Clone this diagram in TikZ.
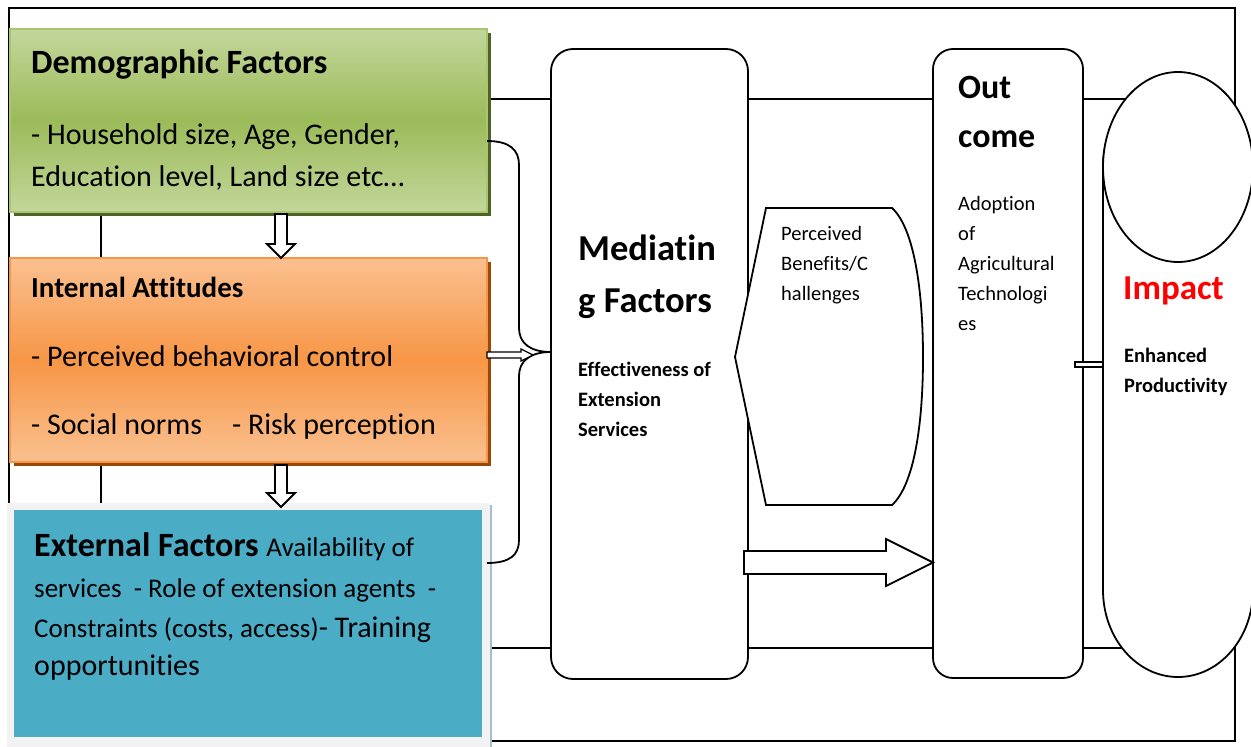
\documentclass[tikz,border=0pt]{standalone}
\usepackage{fontspec}
\setmainfont{Carlito}[Ligatures=NoCommon]
\usetikzlibrary{calc,shadows}
\definecolor{gtop}{HTML}{C3D69B}
\definecolor{gmid}{HTML}{9BBB59}
\definecolor{gborder}{HTML}{A9C66E}
\definecolor{gshadow}{HTML}{4F6228}
\definecolor{otop}{HTML}{FAC090}
\definecolor{omid}{HTML}{F79646}
\definecolor{oborder}{HTML}{F79646}
\definecolor{oshadow}{HTML}{984807}
\definecolor{teal}{HTML}{4BACC6}
\definecolor{tgrey}{HTML}{F2F2F2}
\definecolor{tshadow}{HTML}{A3BFCB}
\definecolor{impred}{HTML}{FF0000}
\tikzset{
  frame/.style={draw=black, line width=1.8pt},
  hollow/.style={draw=black, fill=white, line width=1.8pt, line join=miter},
  tbig/.style={anchor=base west, inner sep=0pt, font=\fontsize{34}{40}\selectfont\bfseries},
  tbody/.style={anchor=base west, inner sep=0pt, font=\fontsize{30}{36}\selectfont},
  tsmall/.style={anchor=base west, inner sep=0pt, font=\fontsize{20.5}{24}\selectfont},
  tsmallb/.style={anchor=base west, inner sep=0pt, font=\fontsize{20.5}{24}\selectfont\bfseries},
}
\begin{document}
\begin{tikzpicture}[x=1pt,y=-1pt]
\useasboundingbox (0,0) rectangle (1251,747);
\fill[white] (0,0) rectangle (1251,747);
% frames
\draw[frame] (9,8) rectangle (1235,741);
\draw[frame] (101,99) rectangle (1178,648);
% left boxes
\node[shade, top color=gtop, bottom color=gtop, middle color=gmid, draw=gborder, line width=1.5pt,
  minimum width=477pt, minimum height=183pt, inner sep=0pt,
  drop shadow={shadow xshift=4pt, shadow yshift=-4pt, fill=gshadow, opacity=1}] (demog) at (248.5,120.5) {};
\node[shade, top color=otop, bottom color=otop, middle color=omid, draw=oborder, line width=1.5pt,
  minimum width=477pt, minimum height=204pt, inner sep=0pt,
  drop shadow={shadow xshift=4pt, shadow yshift=-4pt, fill=oshadow, opacity=1}] (intern) at (248.5,360) {};
\node[fill=tgrey, minimum width=483pt, minimum height=244pt, inner sep=0pt,
  drop shadow={shadow xshift=2pt, shadow yshift=-2pt, fill=tshadow, opacity=1}] (extgrey) at (248.5,625) {};
\node[fill=teal, minimum width=468pt, minimum height=227pt, inner sep=0pt] (extern) at (248,623.5) {};
% middle and right boxes
\node[draw, fill=white, line width=1.8pt, rounded corners=22pt, minimum width=197pt, minimum height=630pt, inner sep=0pt] (med) at (649.5,364) {};
\node[draw, fill=white, line width=1.8pt, rounded corners=20pt, minimum width=150pt, minimum height=629pt, inner sep=0pt] (outc) at (1008,363.5) {};
% brace
\coordinate (bA) at (487,141);
\coordinate (bC) at (487,563);
\coordinate (medL) at (551,352);
\draw[line width=1.8pt] (bA) .. controls (510,141) and (519,150) .. (519,165) -- (519,328)
  .. controls (519,343) and (530,352) .. (medL)
  .. controls (530,352) and (519,361) .. (519,376) -- (519,540)
  .. controls (519,555) and (510,563) .. (bC);
% down arrows
\coordinate (d1) at (281,214);
\coordinate (d2) at (281,465);
\draw[hollow] ($(d1)+(-6,0)$) -- ($(d1)+(-6,30)$) -- ($(d1)+(-14,30)$) -- ($(d1)+(0,44)$) -- ($(d1)+(14,30)$) -- ($(d1)+(6,30)$) -- ($(d1)+(6,0)$) -- cycle;
\draw[hollow] ($(d2)+(-6,0)$) -- ($(d2)+(-6,28)$) -- ($(d2)+(-14,28)$) -- ($(d2)+(0,42)$) -- ($(d2)+(14,28)$) -- ($(d2)+(6,28)$) -- ($(d2)+(6,0)$) -- cycle;
% small arrow internal -> brace
\coordinate (ia) at (487,355);
\draw[hollow, line width=1.3pt] ($(ia)+(0,-3)$) -- ($(ia)+(34,-3)$) -- ($(ia)+(34,-6)$) -- ($(ia)+(46,0)$) -- ($(ia)+(34,6)$) -- ($(ia)+(34,3)$) -- ($(ia)+(0,3)$) -- cycle;
% perceived shape
\draw[hollow] (766,208) -- (892,208) .. controls (914,228) and (923,290) .. (923,357)
  .. controls (923,425) and (914,485) .. (892,505) -- (766,505) -- (735,357) -- cycle;
% big arrow
\draw[hollow] (744,551) -- (886,551) -- (886,539) -- (933,562.5) -- (886,586) -- (886,574) -- (744,574) -- cycle;
% impact stadium and ellipse
\draw[hollow] (1103,167) -- (1103,590) arc[start angle=180, end angle=360, x radius=75pt, y radius=87pt]
  -- (1253,167) arc[start angle=0, end angle=180, x radius=75pt, y radius=87pt] -- cycle;
\draw[hollow] (1178,167) ellipse [x radius=75pt, y radius=95pt];
% connector outcome -> impact
\draw[hollow, line width=1.3pt] (1075,362) rectangle (1103,367);
% texts
\node[tbig] (t1) at (31,73) {Demographic Factors};
\node[tbody] (t2) at (31,144) {- Household size, Age, Gender,};
\node[tbody] (t3) at (31,186) {Education level, Land size etc…};
\node[tbig, font=\fontsize{29}{34}\selectfont\bfseries] (t4) at (31,297) {Internal Attitudes};
\node[tbody] (t5) at (31,366) {- Perceived behavioral control};
\node[tbody] (t6) at (31,434) {- Social norms\hspace*{30pt}- Risk perception};
\node[anchor=base west, inner sep=0pt] (t7) at (34,556) {\fontsize{34}{40}\selectfont\bfseries External Factors \fontsize{27}{32}\selectfont\mdseries Availability of};
\node[anchor=base west, inner sep=0pt, font=\fontsize{27}{32}\selectfont] (t8) at (34,597) {services\ \ - Role of extension agents\ \ -};
\node[anchor=base west, inner sep=0pt, font=\fontsize{27}{32}\selectfont] (t9) at (34,637) {Constraints (costs, access){\fontsize{30}{36}\selectfont- Training}};
\node[tbody] (t10) at (34,675) {opportunities};
\node[tbig, font=\fontsize{36.5}{42}\selectfont\bfseries] (m1) at (578,260) {Mediatin};
\node[tbig, font=\fontsize{36.5}{42}\selectfont\bfseries] (m2) at (578,312) {g Factors};
\node[tsmallb] (m3) at (578,376) {Effectiveness of};
\node[tsmallb] (m4) at (578,406) {Extension};
\node[tsmallb] (m5) at (578,436) {Services};
\node[tsmall] (p1) at (781,240) {Perceived};
\node[tsmall] (p2) at (781,270) {Benefits/C};
\node[tsmall] (p3) at (781,300) {hallenges};
\node[tbig] (o1) at (958,98) {Out};
\node[tbig] (o2) at (958,147) {come};
\node[tsmall] (o3) at (958,210) {Adoption};
\node[tsmall] (o4) at (958,240) {of};
\node[tsmall] (o5) at (958,270) {Agricultural};
\node[tsmall] (o6) at (958,300) {Technologi};
\node[tsmall] (o7) at (958,330) {es};
\node[tbig, text=impred, font=\fontsize{35}{40}\selectfont\bfseries] (i1) at (1123,299) {Impact};
\node[tsmallb] (i2) at (1124,362) {Enhanced};
\node[tsmallb] (i3) at (1124,392) {Productivity};
\end{tikzpicture}
\end{document}
